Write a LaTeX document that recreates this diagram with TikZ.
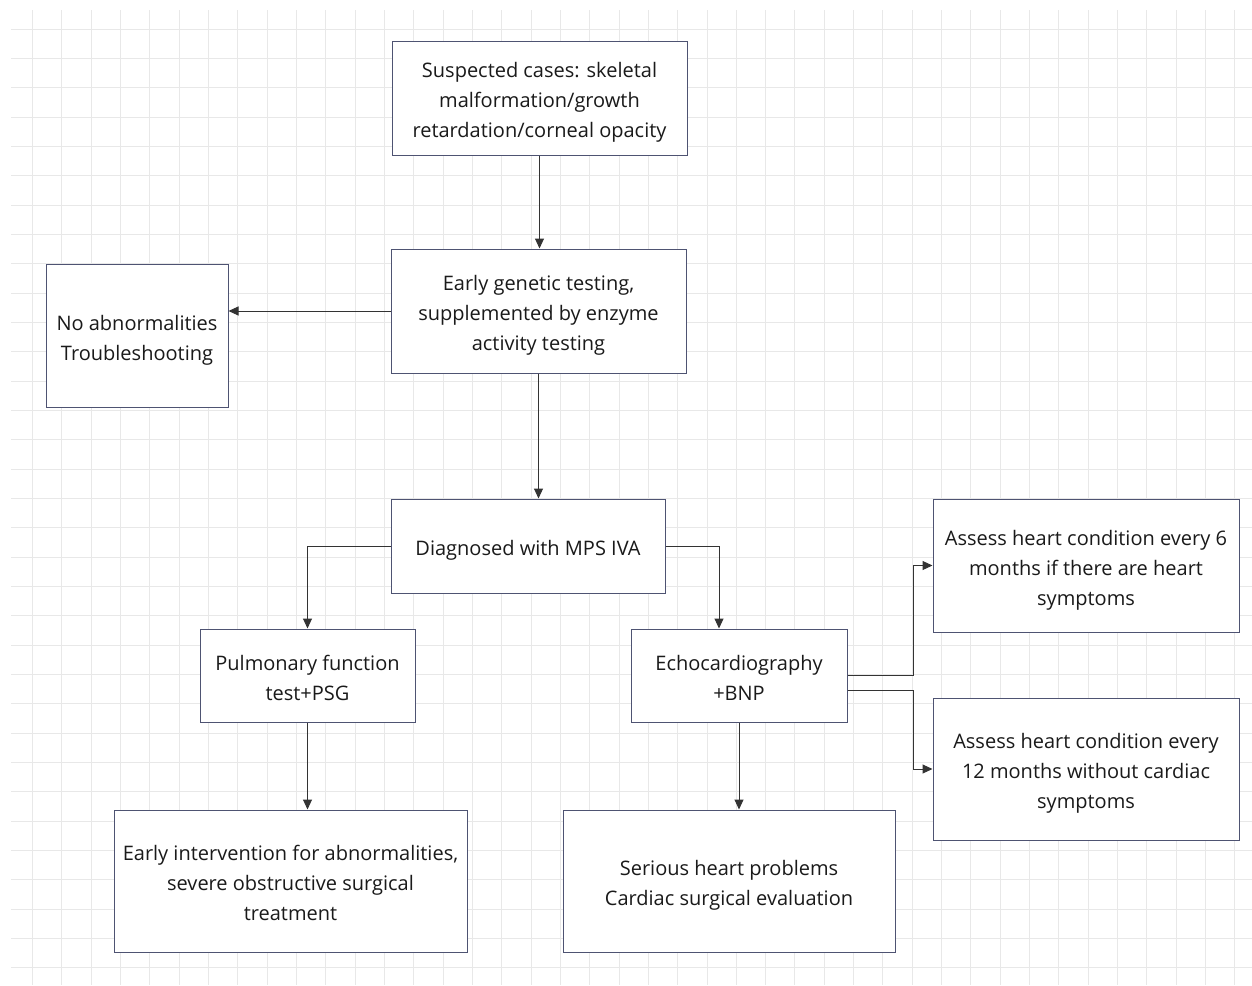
\documentclass[tikz,border=0pt]{standalone}
\usepackage{fontspec}
\setmainfont{Open Sans}
\usetikzlibrary{arrows.meta, positioning}
\definecolor{boxedge}{HTML}{4E5372}
\definecolor{gridgray}{HTML}{E8E8E8}
\definecolor{linegray}{HTML}{333333}
\definecolor{textdark}{HTML}{1A1A1A}
% centred lines, set a little low in the box
\newcommand{\boxtext}[1]{\raisebox{-3.5pt}[\height][\depth]{\begin{tabular}{@{}c@{}}#1\end{tabular}}}

\begin{document}
\begin{tikzpicture}[
    x=1pt, y=-1pt,
    box/.style={rectangle, draw=boxedge, line width=1pt, fill=white, text=textdark, font=\fontsize{20}{30}\selectfont, inner sep=0pt},
    arrow/.style={-{Triangle[length=10pt, width=9pt]}, line width=1pt, draw=linegray},
    gridline/.style={draw=gridgray, line width=0.8pt}
]
\useasboundingbox (0,0) rectangle (1252,985);
% background grid
\begin{scope}
\clip (11,10) rectangle (1252,985);
\foreach \i in {0,...,42} \draw[gridline] ({32.3+29.33*\i},10) -- ++(0,975);
\foreach \j in {0,...,32} \draw[gridline] (11,{29+29.33*\j}) -- ++(1241,0);
\end{scope}
\node[box, minimum width=295pt, minimum height=114pt] (suspect) at (539.5,98) {\boxtext{Suspected cases: skeletal\\malformation/growth\\retardation/corneal opacity}};
\node[box, minimum width=295pt, minimum height=124pt] (genetic) at (538.5,311) {\boxtext{Early genetic testing,\\supplemented by enzyme\\activity testing}};
\node[box, minimum width=182pt, minimum height=143pt] (normal) at (137,335.5) {\boxtext{No abnormalities\\Troubleshooting}};
\node[box, minimum width=274pt, minimum height=94pt] (mps) at (528,546) {\boxtext{Diagnosed with MPS IVA}};
\node[box, minimum width=215pt, minimum height=93pt] (lung) at (307.5,675.5) {\boxtext{Pulmonary function\\test+PSG}};
\node[box, minimum width=216pt, minimum height=93pt] (echo) at (739,675.5) {\boxtext{Echocardiography\\+BNP}};
\node[box, minimum width=306pt, minimum height=133pt] (sixmonth) at (1086,565.5) {\boxtext{Assess heart condition every 6\\months if there are heart\\symptoms}};
\node[box, minimum width=306pt, minimum height=142pt] (twelvemonth) at (1086,769) {\boxtext{Assess heart condition every\\12 months without cardiac\\symptoms}};
\node[box, minimum width=353pt, minimum height=142pt] (surgery) at (290.5,881) {\boxtext{Early intervention for abnormalities,\\severe obstructive surgical\\treatment}};
\node[box, minimum width=332pt, minimum height=142pt] (cardiac) at (729,881) {\boxtext{Serious heart problems\\Cardiac surgical evaluation}};
\draw[arrow] (suspect.south) -- (suspect.south |- genetic.north);
\draw[arrow] (genetic.west) -- (normal.east |- genetic.west);
\draw[arrow] (genetic.south) -- (genetic.south |- mps.north);
\draw[arrow] (mps.west) -| (lung.north);
\draw[arrow] (mps.east) -| ([xshift=-20pt]echo.north);
\draw[arrow] (echo.east) -- ++(66,0) |- (sixmonth.west);
\draw[arrow] ([yshift=-15pt]echo.east) -- ++(66,0) |- (twelvemonth.west);
\draw[arrow] (lung.south) -- (lung.south |- surgery.north);
\draw[arrow] (echo.south) -- (echo.south |- cardiac.north);
\end{tikzpicture}
\end{document}
